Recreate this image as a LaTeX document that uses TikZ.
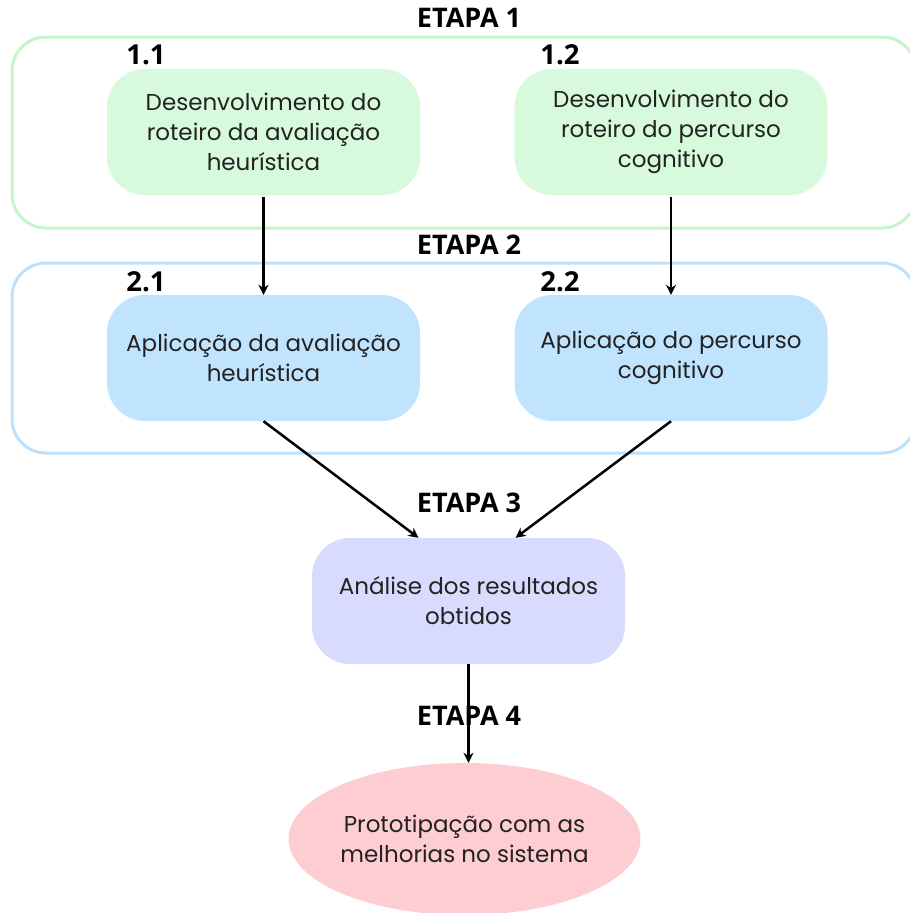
\documentclass[tikz,border=0pt]{standalone}
\usepackage{fontspec}
\setmainfont{Poppins}
\newfontfamily\etapafont{Open Sans}
\usetikzlibrary{shapes.geometric,arrows.meta}

\definecolor{verdeborda}{HTML}{C6F4CB}
\definecolor{verdefundo}{HTML}{D6FADB}
\definecolor{azulborda}{HTML}{BDE1FC}
\definecolor{azulfundo}{HTML}{C0E3FE}
\definecolor{lilasfundo}{HTML}{D8DAFE}
\definecolor{rosafundo}{HTML}{FECDD2}
\definecolor{texto}{HTML}{222222}

\begin{document}
\begin{tikzpicture}[x=1pt, y=-1pt, >={Stealth[length=10pt,width=10pt]},
	every node/.style={text=texto, font=\fontsize{23}{30}\selectfont},
	caixa/.style={rounded corners=38pt, minimum width=313pt, minimum height=126pt, align=center, inner sep=0pt},
	etapa/.style={font=\etapafont\bfseries\fontsize{27}{30}\selectfont, text=black},
	numero/.style={font=\etapafont\bfseries\fontsize{27.5}{30}\selectfont, text=black},
	seta/.style={->, line width=2.5pt, black}]
	\useasboundingbox (0,0) rectangle (910,913);
	\clip (0,0) rectangle (910,913);

	% 1. molduras das etapas (ao fundo)
	\draw[verdeborda, line width=3pt, rounded corners=34pt] (12,37) rectangle (916,228);
	\draw[azulborda, line width=3pt, rounded corners=34pt] (12,263) rectangle (916,453);

	% 2. titulos das etapas e numeros
	\node[etapa] (et1) at (469,18) {ETAPA 1};
	\node[etapa] (et2) at (469,245) {ETAPA 2};
	\node[etapa] (et3) at (469,503) {ETAPA 3};
	\node[etapa] (et4) at (469,716) {ETAPA 4};
	\node[numero] (n11) at (146,55) {1.1};
	\node[numero] (n12) at (560,55) {1.2};
	\node[numero] (n21) at (146,282) {2.1};
	\node[numero] (n22) at (560,282) {2.2};

	% 3. caixas
	\node[caixa, fill=verdefundo] (roteiroH) at (263.5,132) {Desenvolvimento do\\roteiro da avaliação\\heurística};
	\node[caixa, fill=verdefundo] (roteiroP) at (671,132) {Desenvolvimento do\\roteiro do percurso\\cognitivo};
	\node[caixa, fill=azulfundo] (aplicH) at (263.5,358) {Aplicação da avaliação\\heurística};
	\node[caixa, fill=azulfundo] (aplicP) at (671,358) {Aplicação do percurso\\cognitivo};
	\node[caixa, fill=lilasfundo] (analise) at (468.5,601) {Análise dos resultados\\obtidos};
	\node[ellipse, fill=rosafundo, minimum width=352pt, minimum height=152pt, align=center, inner sep=0pt] (prototipo) at (464.5,839) {Prototipação com as\\melhorias no sistema};

	% 4. setas
	\draw[seta] ([yshift=-2pt]roteiroH.south) -- (aplicH.north);
	\draw[seta] ([yshift=-2pt]roteiroP.south) -- (aplicP.north);
	\draw[seta] (aplicH.south) -- ([xshift=-50pt]analise.north);
	\draw[seta] (aplicP.south) -- ([xshift=47pt]analise.north);
	\draw[seta] (analise.south) -- ([xshift=4pt]prototipo.north);
\end{tikzpicture}
\end{document}
